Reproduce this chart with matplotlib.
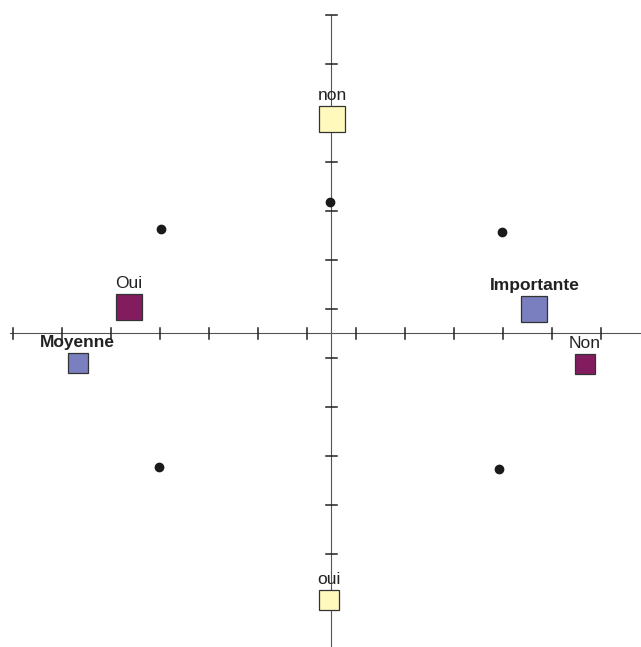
import matplotlib
matplotlib.use("Agg")
import matplotlib.pyplot as plt
import numpy as np

plt.rcParams['font.family'] = ['Liberation Sans', 'DejaVu Sans']

# category points (modalities) -- coordinates in axis units
labels = ['non', 'oui', 'Oui', 'Moyenne', 'Importante', 'Non']
xs = [0.03, -0.04, -4.13, -5.17, 4.15, 5.18]
ys = [4.37, -5.45, 0.53, -0.61, 0.50, -0.63]
colors = ['#fff9bd', '#fff9bd', '#821c5f', '#7a7fc0', '#7a7fc0', '#821c5f']
sizes = [19, 14.5, 19, 14.5, 19, 14.5]
bold = [False, False, False, True, True, False]

# individuals (black dots)
dot_x = [-3.46, 3.49, -3.51, 3.43, -0.02]
dot_y = [2.12, 2.06, -2.73, -2.78, 2.67]

# tick positions along each axis
xticks = np.arange(-6.5, 5.6, 1.0)
yticks = np.arange(-4.5, 6.6, 1.0)

fig = plt.figure(figsize=(6.41, 6.47), dpi=100)
ax = fig.add_axes([0, 0, 1, 1])
ax.set_xlim(-331 / 49, 310 / 49)
ax.set_ylim(-314 / 49, 333 / 49)
ax.axis('off')

axcol = '#555555'
ax.plot([-6.55, 6.4], [0, 0], color=axcol, lw=0.8, zorder=1)
ax.plot([0, 0], [6.49, -6.5], color=axcol, lw=0.8, zorder=1)
tl = 5.5 / 49
for t in xticks:
    ax.plot([t, t], [-tl, tl], color='#222222', lw=1.1, zorder=1)
for t in yticks:
    ax.plot([-tl, tl], [t, t], color='#222222', lw=1.1, zorder=1)

ax.plot(dot_x, dot_y, 'o', color='#1a1a1a', ms=6, zorder=3)

for lab, x, y, c, s, b in zip(labels, xs, ys, colors, sizes, bold):
    ax.plot(x, y, 's', ms=s, mfc=c, mec='#333333', mew=0.9, zorder=2)
    ax.annotate(lab, (x, y), xytext=(0, s / 2 + 4), textcoords='offset points',
                ha='center', va='baseline', fontsize=12.5,
                fontweight='bold' if b else 'normal', color='#222222', zorder=4)

fig.savefig('out.png', dpi=100)
